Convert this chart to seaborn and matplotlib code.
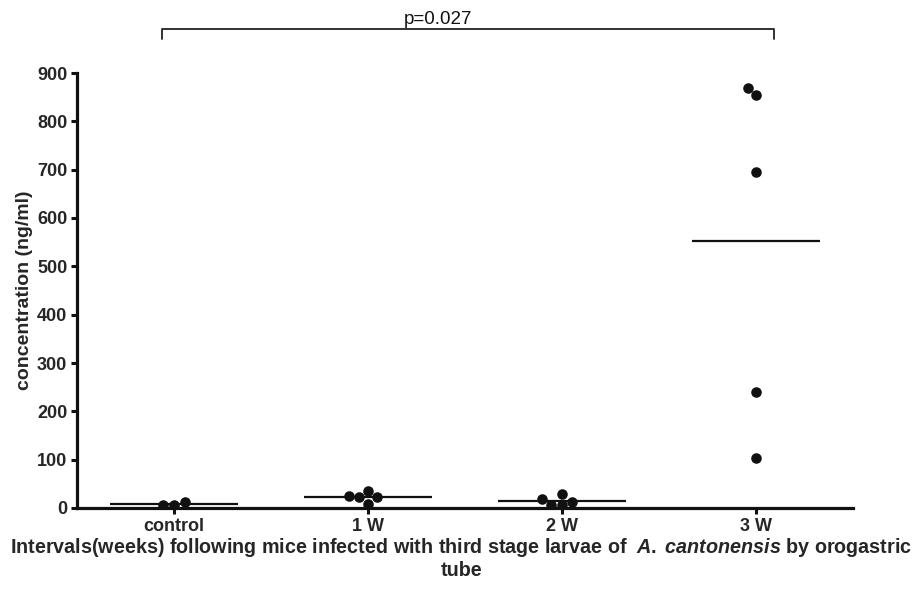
import matplotlib
matplotlib.use("Agg")
import matplotlib.pyplot as plt
import seaborn as sns
import pandas as pd

# ---- data ----
groups = ["control", "1 W", "2 W", "3 W"]
control = [12, 6, 6]
week1 = [36, 22, 8, 22, 25]
week2 = [30, 13, 6, 6, 19]
week3 = [869, 854, 695, 239, 103]
y_ticks = [0, 100, 200, 300, 400, 500, 600, 700, 800, 900]
p_text = "p=0.027"
y_label = "concentration (ng/ml)"
x_label = ("Intervals(weeks) following mice infected with third stage larvae of  "
           r"$\mathit{A.\;cantonensis}$ by orogastric" "\ntube")

values = [control, week1, week2, week3]
df = pd.DataFrame({
    "group": [g for g, v in zip(groups, values) for _ in v],
    "value": [x for v in values for x in v],
})

sns.set_theme(style="ticks")
plt.rcParams["font.family"] = ["Liberation Sans", "DejaVu Sans"]
plt.rcParams["mathtext.fontset"] = "custom"
plt.rcParams["mathtext.rm"] = "Liberation Sans:bold"
plt.rcParams["mathtext.bf"] = "Liberation Sans:bold"
plt.rcParams["mathtext.it"] = "Liberation Sans:italic:bold"

fig = plt.figure(figsize=(9.19, 5.89), dpi=100)
ax = fig.add_axes([77 / 919, 1 - 508 / 589, (853 - 77) / 919, (508 - 73) / 589])

# mean lines
sns.boxplot(data=df, x="group", y="value", order=groups, width=0.66,
            showmeans=True, meanline=True, showbox=False, showcaps=False,
            showfliers=False,
            meanprops={"color": "#111111", "linestyle": "-", "linewidth": 1.6},
            medianprops={"visible": False},
            whiskerprops={"visible": False},
            capprops={"visible": False},
            ax=ax)

# points
sns.swarmplot(data=df, x="group", y="value", order=groups, color="#111111",
              size=7.6, ax=ax, zorder=3)

ax.set_xlim(-0.5, 3.5)
ax.set_ylim(0, 900)
ax.set_yticks(y_ticks)
sns.despine(ax=ax)
for s in ["left", "bottom"]:
    ax.spines[s].set_linewidth(2.3)
    ax.spines[s].set_color("#111111")
ax.tick_params(axis="both", length=4, width=2.2, color="#111111",
               labelsize=13, pad=3)
for lab in ax.get_xticklabels() + ax.get_yticklabels():
    lab.set_fontweight("bold")

ax.set_ylabel(y_label, fontsize=14, fontweight="bold", labelpad=3)
ax.set_xlabel(x_label, fontsize=14.2, fontweight="bold", labelpad=1,
              linespacing=1.15)
ax.xaxis.label.set_x(0.495)

# significance bracket
tr = ax.get_xaxis_transform()
ax.plot([-0.063, -0.063, 3.093, 3.093], [1.078, 1.101, 1.101, 1.078],
        transform=tr, color="#222222", lw=1.3, clip_on=False)
ax.text(1.36, 1.113, p_text, transform=tr, ha="center", va="baseline",
        fontsize=13.5, color="#111111")

fig.savefig("out.png", dpi=100)
